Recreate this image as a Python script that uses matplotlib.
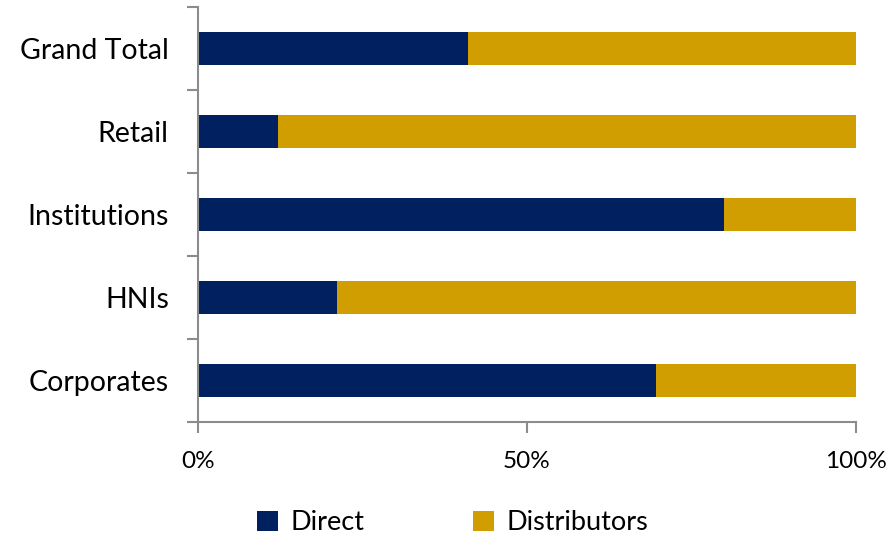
import matplotlib
matplotlib.use("Agg")
import matplotlib.pyplot as plt
import numpy as np
from matplotlib.patches import Patch

categories = ["Corporates", "HNIs", "Institutions", "Retail", "Grand Total"]
direct = [69.6, 21.1, 80.0, 12.2, 41.0]
distributors = [100 - d for d in direct]
xtick_labels = ["0%", "50%", "100%"]

navy = "#002060"
gold = "#D09E00"
gray = "#8C8C8C"

plt.rcParams['font.family'] = ['Lato', 'DejaVu Sans']

fig = plt.figure(figsize=(8.89, 5.37), dpi=100)
ax = fig.add_axes([198/889, 1-422/537, (856-198)/889, (422-7)/537])

y = np.arange(len(categories))
ax.barh(y, direct, height=0.4, color=navy, edgecolor="none")
ax.barh(y, distributors, left=direct, height=0.4, color=gold, edgecolor="none")

ax.set_xlim(0, 100)
ax.set_ylim(-0.5, len(categories) - 0.5)

ax.set_xticks([0, 50, 100])
ax.set_xticklabels(xtick_labels)
ax.set_yticks(np.arange(-0.5, len(categories), 1.0))
ax.set_yticklabels([])
ax.set_yticks(y, minor=True)
ax.set_yticklabels(categories, minor=True)
ax.tick_params(axis='y', which='major', length=8, color=gray, width=1.5, direction='out')
ax.tick_params(axis='y', which='minor', length=0, labelsize=20.5, pad=21)
ax.tick_params(axis='x', which='major', length=8, color=gray, width=1.5, direction='out', labelsize=17.5, pad=13)

for s in ['top', 'right']:
    ax.spines[s].set_visible(False)
for s in ['left', 'bottom']:
    ax.spines[s].set_color(gray)
    ax.spines[s].set_linewidth(1.5)

handles = [Patch(facecolor=navy, label="Direct"), Patch(facecolor=gold, label="Distributors")]
fig.legend(handles=handles, loc='center', bbox_to_anchor=(0.509, 1-523/537), ncol=2,
           frameon=False, fontsize=19.5, handlelength=0.8, handleheight=0.8,
           handletextpad=0.45, columnspacing=4.0)

fig.savefig("out.png", dpi=100)
